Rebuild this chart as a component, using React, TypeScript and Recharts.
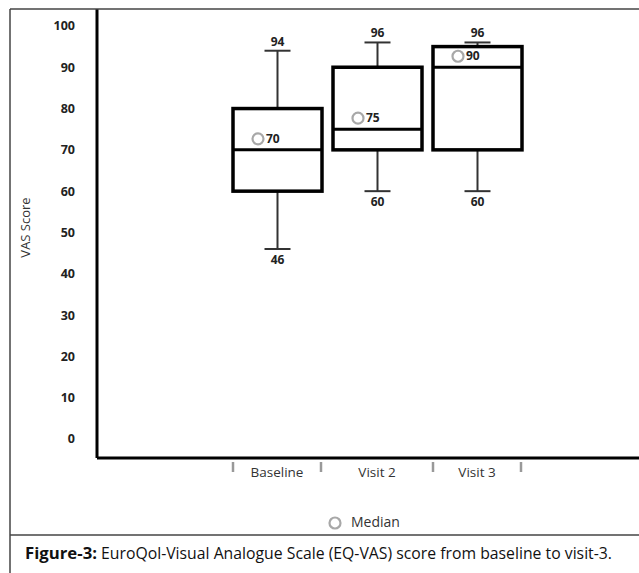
import React from 'react';
import { ComposedChart, Bar, Scatter, XAxis, YAxis } from 'recharts';

const categories = ['Baseline', 'Visit 2', 'Visit 3'];
const minValues = [46, 60, 60];
const q1Values = [60, 70, 70];
const medianValues = [70, 75, 90];
const q3Values = [80, 90, 95];
const maxValues = [94, 96, 96];
const yTicks = [0, 10, 20, 30, 40, 50, 60, 70, 80, 90, 100];

const data = categories.map((name, i) => ({
  name,
  min: minValues[i],
  q1: q1Values[i],
  median: medianValues[i],
  q3: q3Values[i],
  max: maxValues[i],
}));

const LABEL_FONT = '"Open Sans", "Noto Sans", sans-serif';
const CAPTION_FONT = '"Liberation Sans Narrow", "Open Sans", sans-serif';

const WhiskerShape = (props: any) => {
  const { x, y, width, height, payload } = props;
  const cx = x + width / 2;
  const top = y;
  const bottom = y + height;
  return (
    <g>
      <line x1={cx} x2={cx} y1={top} y2={bottom} stroke="#333" strokeWidth={2} />
      <line x1={cx - 13} x2={cx + 13} y1={top} y2={top} stroke="#333" strokeWidth={2} />
      <line x1={cx - 13} x2={cx + 13} y1={bottom} y2={bottom} stroke="#333" strokeWidth={2} />
      <text x={cx} y={top - 5} textAnchor="middle" fontFamily={LABEL_FONT} fontWeight={700} fontSize={12} fill="#222">
        {payload.max}
      </text>
      <text x={cx} y={bottom + 15} textAnchor="middle" fontFamily={LABEL_FONT} fontWeight={700} fontSize={12} fill="#222">
        {payload.min}
      </text>
    </g>
  );
};

const BoxShape = (props: any) => {
  const { x, y, width, height, payload } = props;
  const my = y + ((payload.q3 - payload.median) / (payload.q3 - payload.q1)) * height;
  return (
    <g>
      <rect x={x} y={y} width={width} height={height} fill="#fff" stroke="#000" strokeWidth={3.5} />
      <line x1={x} x2={x + width} y1={my} y2={my} stroke="#000" strokeWidth={3} />
    </g>
  );
};

const MedianShape = (props: any) => {
  const { cx, cy, payload } = props;
  return (
    <g>
      <circle cx={cx - 19} cy={cy - 11} r={5.5} fill="none" stroke="#a8a8a8" strokeWidth={2.2} />
      <text x={cx - 11} y={cy - 7} fontFamily={LABEL_FONT} fontWeight={700} fontSize={12} fill="#222">
        {payload.median}
      </text>
    </g>
  );
};

const CategoryTick = (props: any) => {
  const { x, y, payload, index } = props;
  const marks = index === 0 || index === 2 ? [-44, 44] : [];
  return (
    <g>
      {marks.map((d) => (
        <line key={d} x1={x + d} x2={x + d} y1={y + 4} y2={y + 14} stroke="#999" strokeWidth={2.5} />
      ))}
      <text x={x} y={y + 19} textAnchor="middle" fontFamily={LABEL_FONT} fontSize={13.5} fill="#333">
        {payload.value}
      </text>
    </g>
  );
};

const YTitle = (props: any) => {
  const { viewBox } = props;
  const cx = viewBox.x + 27;
  const cy = viewBox.y + viewBox.height / 2 - 6;
  return (
    <text
      x={cx}
      y={cy}
      textAnchor="middle"
      dominantBaseline="middle"
      transform={`rotate(-90, ${cx}, ${cy})`}
      fontFamily={LABEL_FONT}
      fontSize={13}
      fill="#333"
    >
      VAS Score
    </text>
  );
};

export default function App() {
  return (
    <div style={{ position: 'absolute', left: 0, top: 0, width: 639, height: 573, background: '#fff' }}>
      <ComposedChart
        width={639}
        height={573}
        data={data}
        margin={{ top: 9, right: 0, bottom: 0, left: 0 }}
      >
        <XAxis
          xAxisId="main"
          dataKey="name"
          type="category"
          height={115}
          padding={{ left: 130, right: 112 }}
          axisLine={{ stroke: '#000', strokeWidth: 3 }}
          tickLine={false}
          tickSize={0}
          tickMargin={0}
          tick={<CategoryTick />}
          interval={0}
        />
        <XAxis
          xAxisId="whisker"
          dataKey="name"
          type="category"
          hide
          padding={{ left: 130, right: 112 }}
        />
        <YAxis
          type="number"
          domain={[-4.6, 104.1]}
          allowDataOverflow
          ticks={yTicks}
          width={97}
          axisLine={{ stroke: '#000', strokeWidth: 3 }}
          tickLine={false}
          tickSize={0}
          tickMargin={22}
          tick={{ fontFamily: LABEL_FONT, fontWeight: 700, fontSize: 12.5, fill: '#222' }}
          label={<YTitle />}
        />
        <Bar
          xAxisId="whisker"
          dataKey={(d: any) => [d.min, d.max]}
          barSize={89}
          shape={<WhiskerShape />}
          isAnimationActive={false}
        />
        <Bar
          xAxisId="main"
          dataKey={(d: any) => [d.q1, d.q3]}
          barSize={89}
          shape={<BoxShape />}
          isAnimationActive={false}
        />
        <Scatter
          xAxisId="main"
          dataKey="median"
          name="Median"
          shape={<MedianShape />}
          isAnimationActive={false}
        />
      </ComposedChart>
      <svg
        width={639}
        height={573}
        style={{ position: 'absolute', left: 0, top: 0, pointerEvents: 'none' }}
      >
        <line x1={10} x2={639} y1={9} y2={9} stroke="#444" strokeWidth={1.5} />
        <line x1={10} x2={10} y1={9} y2={573} stroke="#444" strokeWidth={1.5} />
        <line x1={10} x2={639} y1={535} y2={535} stroke="#444" strokeWidth={1.5} />
        <circle cx={335} cy={523} r={5.5} fill="none" stroke="#a8a8a8" strokeWidth={2.2} />
        <text x={351} y={527} fontFamily={LABEL_FONT} fontSize={14} fill="#333">Median</text>
        <text
          x={25}
          y={559}
          fontFamily={CAPTION_FONT}
          fontSize={15.5}
          fontWeight={700}
          fill="#111"
          textLength={72}
          lengthAdjust="spacingAndGlyphs"
        >
          Figure-3:
        </text>
        <text
          x={101}
          y={559}
          fontFamily={CAPTION_FONT}
          fontSize={15.5}
          fill="#111"
          textLength={511}
          lengthAdjust="spacingAndGlyphs"
        >
          EuroQol-Visual Analogue Scale (EQ-VAS) score from baseline to visit-3.
        </text>
      </svg>
    </div>
  );
}
